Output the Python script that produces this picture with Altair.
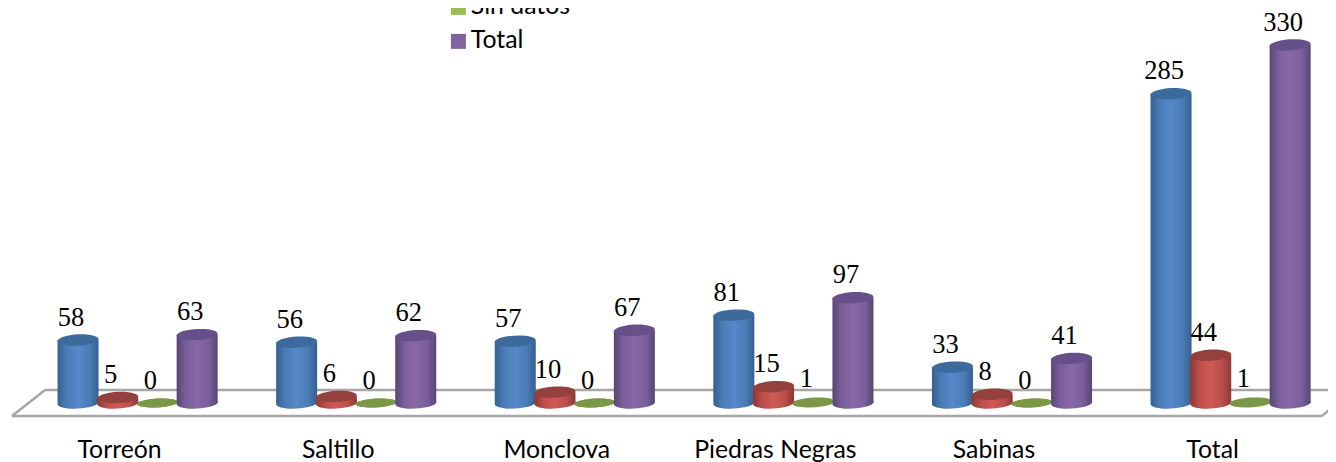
import altair as alt
import pandas as pd

categories = ["Torreón", "Saltillo", "Monclova", "Piedras Negras", "Sabinas", "Total"]
series = ["Serie 1", "Serie 2", "Sin datos", "Total"]
serie1 = [58, 56, 57, 81, 33, 285]
serie2 = [5, 6, 10, 15, 8, 44]
sin_datos = [0, 0, 0, 1, 0, 1]
total = [63, 62, 67, 97, 41, 330]

base_colors = ["#4f81bd", "#c0504d", "#9bbb59", "#8064a2"]
edge_colors = ["#35608f", "#8b3836", "#6f8a3c", "#594573"]
side_colors = ["#4a7cb6", "#bb4e4b", "#7d9a45", "#7a5f9c"]
mid_colors = ["#5688ca", "#cf5a56", "#86a24c", "#8a67a9"]
cap_colors = ["#3d6a9c", "#94403e", "#7b9846", "#67508a"]

rows = []
for s, vals in zip(series, [serie1, serie2, sin_datos, total]):
    for c, v in zip(categories, vals):
        rows.append({"cat": c, "serie": s, "value": v})
df = pd.DataFrame(rows)

X = alt.X(
    "cat:N",
    sort=categories,
    scale=alt.Scale(range=[20.3, 1331.9], paddingInner=0, paddingOuter=0),
    axis=alt.Axis(
        title=None, ticks=False, domain=False, grid=False, labelAngle=0,
        labelFont="Lato", labelFontSize=24.8, labelColor="#000000",
        labelOffset=-18, labelPadding=9,
    ),
)
XO = alt.XOffset(
    "serie:N", sort=series,
    scale=alt.Scale(domain=series, paddingInner=0, paddingOuter=0.753),
)
y_scale = alt.Scale(domain=[0, 330], range=[395, 37], nice=False, zero=False)
Y = alt.Y("value:Q", stack=None, scale=y_scale, axis=None)


def ellipse(ry):
    dx, dy = 0.9986, 0.05
    return f"M{-dx},{dy} A1 {ry} -3 1 1 {dx},{-dy} A1 {ry} -3 1 1 {-dx},{dy} Z"


def grad(edge, side, mid):
    return {
        "gradient": "linear", "x1": 0, "x2": 1, "y1": 0, "y2": 0,
        "stops": [
            {"offset": 0, "color": edge},
            {"offset": 0.22, "color": side},
            {"offset": 0.5, "color": mid},
            {"offset": 0.78, "color": side},
            {"offset": 1, "color": edge},
        ],
    }


GRAY = "#a6a6a6"
floor = [
    alt.Chart().mark_rule(color=GRAY, strokeWidth=2.5).encode(
        x=alt.value(37), x2=alt.value(1328), y=alt.value(382), y2=alt.value(382)),
    alt.Chart().mark_rule(color=GRAY, strokeWidth=2.5).encode(
        x=alt.value(4), x2=alt.value(1314), y=alt.value(408), y2=alt.value(408)),
    alt.Chart().mark_rule(color=GRAY, strokeWidth=2.5).encode(
        x=alt.value(4), x2=alt.value(37), y=alt.value(408), y2=alt.value(382)),
    alt.Chart().mark_rule(color=GRAY, strokeWidth=2.5).encode(
        x=alt.value(1314), x2=alt.value(1328), y=alt.value(408), y2=alt.value(396)),
]

# invisible layer carrying the colour legend
legend_layer = alt.Chart(df).mark_square(opacity=0, size=1).encode(
    x=X, xOffset=XO, y=Y,
    color=alt.Color(
        "serie:N",
        scale=alt.Scale(domain=series, range=base_colors),
        legend=alt.Legend(
            title=None, orient="none", legendX=438, legendY=-13,
            values=["Sin datos", "Total"], symbolType="square", symbolSize=225,
            symbolStrokeWidth=0, labelFont="Lato", labelFontSize=24.8,
            labelColor="#000000", rowPadding=8, labelOffset=0, padding=0,
        ),
    ),
)

cyl = []
for i, s in enumerate(series):
    d = df[df["serie"] == s]
    ry = 0.21 if s == "Sin datos" else 0.27
    g = grad(edge_colors[i], side_colors[i], mid_colors[i])
    bottom = alt.Chart(d).mark_point(
        shape=ellipse(ry), size=1681, filled=True, fill=g, opacity=1, strokeWidth=0
    ).transform_calculate(base="0").encode(
        x=X, xOffset=XO,
        y=alt.Y("base:Q", scale=y_scale, axis=None),
    )
    body = alt.Chart(d).mark_bar(width=41, fill=g, stroke=None).encode(x=X, xOffset=XO, y=Y)
    top = alt.Chart(d).mark_point(
        shape=ellipse(ry), size=1681, filled=True, fill=cap_colors[i], opacity=1, strokeWidth=0
    ).encode(x=X, xOffset=XO, y=Y)
    cyl += [bottom, body, top]

labels = alt.Chart(df).mark_text(
    font="Liberation Serif", fontSize=26.5, color="#000000",
    align="center", baseline="alphabetic", dx=-7, dy=-14.5,
).encode(x=X, xOffset=XO, y=Y, text="value:Q")

chart = alt.layer(*floor, legend_layer, *cyl, labels).properties(
    width=1320, height=420,
    padding={"left": 0, "top": 0, "right": 0, "bottom": 34},
    autosize=alt.AutoSizeParams(type="none"),
    background="white",
).configure_view(stroke=None)

chart.save("out.html", embed_options={"renderer": "svg", "actions": False})
